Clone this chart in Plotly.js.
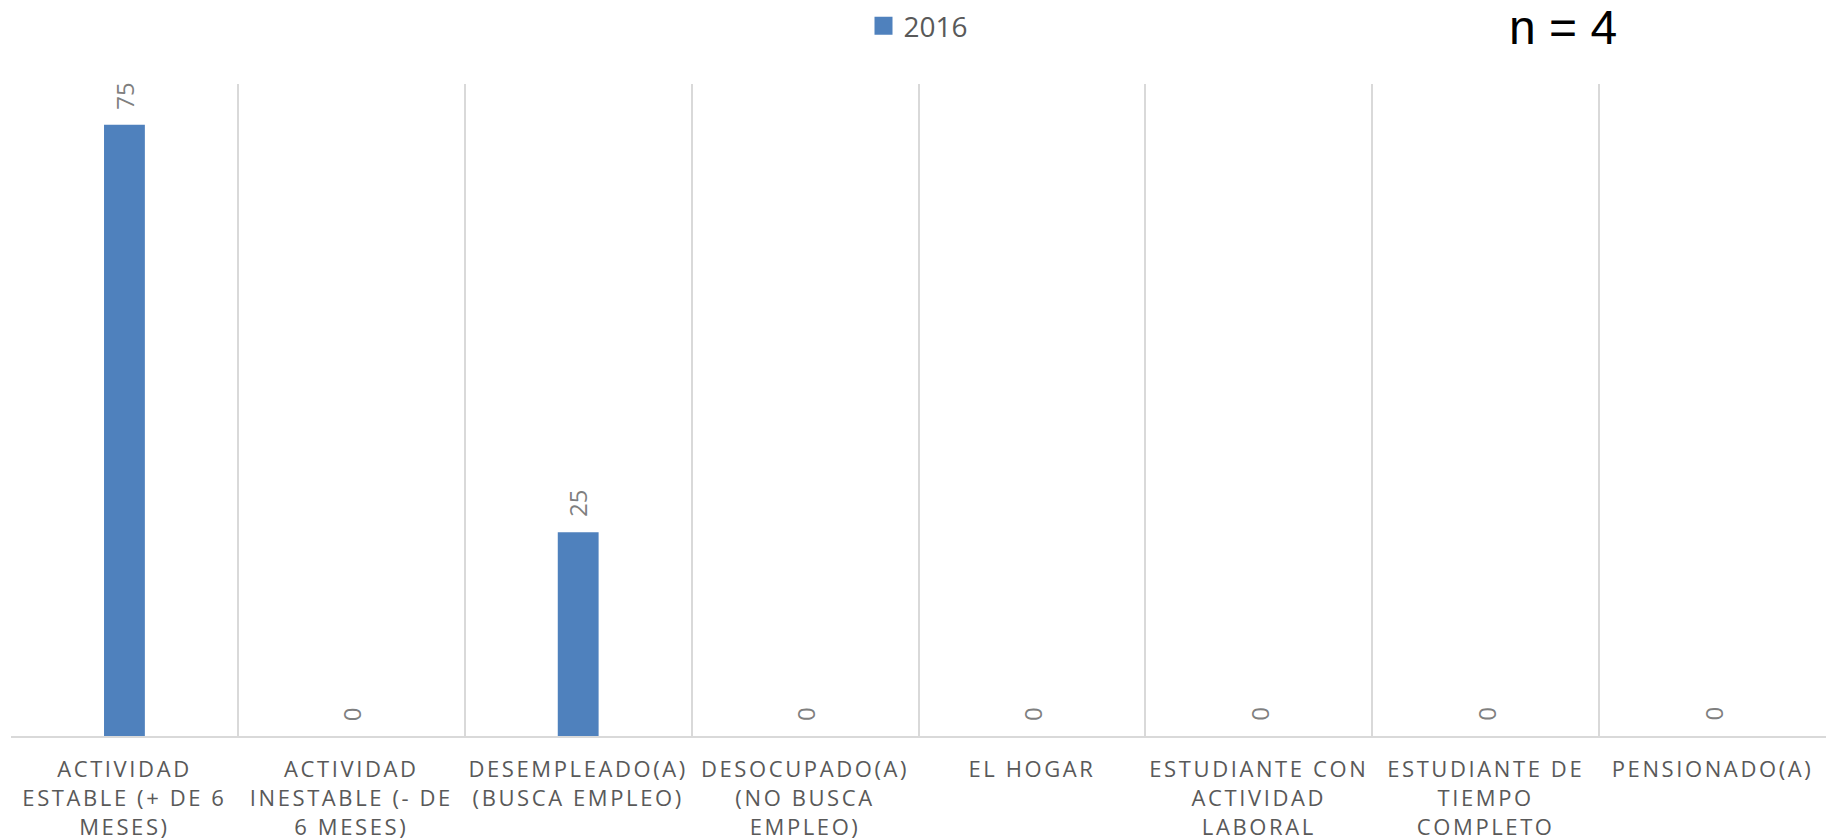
<!DOCTYPE html>
<html>
<head>
<meta charset="utf-8">
<script src="https://cdn.plot.ly/plotly-3.0.1.min.js"></script>
<style>
  html, body { margin: 0; padding: 0; background: #fff; }
  #chart { width: 1833px; height: 840px; }
  .xtick text, .xtick tspan { letter-spacing: 2.6px; }
</style>
</head>
<body>
<div id="chart"></div>
<script>
const categories = [
  "ACTIVIDAD<br>ESTABLE (+ DE 6<br>MESES)",
  "ACTIVIDAD<br>INESTABLE (- DE<br>6 MESES)",
  "DESEMPLEADO(A)<br>(BUSCA EMPLEO)",
  "DESOCUPADO(A)<br>(NO BUSCA<br>EMPLEO)",
  "EL HOGAR",
  "ESTUDIANTE CON<br>ACTIVIDAD<br>LABORAL",
  "ESTUDIANTE DE<br>TIEMPO<br>COMPLETO",
  "PENSIONADO(A)"
];
const seriesName = "2016";
const values2016 = [75, 0, 25, 0, 0, 0, 0, 0];
const sampleLabel = "n = 4";

const trace = {
  type: 'bar',
  name: seriesName,
  x: categories,
  y: values2016,
  width: 0.18,
  marker: { color: '#4f81bd' },
  hoverinfo: 'x+y'
};

const dataLabels = categories.map((c, i) => ({
  x: c,
  y: values2016[i],
  xref: 'x',
  yref: 'y',
  text: String(values2016[i]),
  showarrow: false,
  textangle: -90,
  xanchor: 'center',
  yanchor: 'bottom',
  yshift: 13,
  font: { family: 'Open Sans, sans-serif', size: 24, color: '#7f7f7f' }
}));

const layout = {
  width: 1833,
  height: 840,
  margin: { l: 11, r: 7, t: 84, b: 104, autoexpand: false },
  paper_bgcolor: '#ffffff',
  plot_bgcolor: '#ffffff',
  showlegend: true,
  legend: {
    orientation: 'h',
    xref: 'paper',
    x: 0.5,
    xanchor: 'center',
    yref: 'container',
    y: 0.969,
    yanchor: 'middle',
    font: { family: 'Open Sans, sans-serif', size: 28, color: '#595959' },
    itemwidth: 30
  },
  xaxis: {
    type: 'category',
    range: [-0.5, 7.5],
    tickson: 'boundaries',
    showgrid: true,
    gridcolor: '#d9d9d9',
    gridwidth: 1.5,
    showline: true,
    linecolor: '#d9d9d9',
    linewidth: 2,
    ticks: '',
    automargin: false,
    ticklabelstandoff: 13,
    tickfont: { family: 'Open Sans, sans-serif', size: 22, color: '#595959' },
    fixedrange: true
  },
  yaxis: {
    range: [0, 80],
    showgrid: false,
    zeroline: false,
    showticklabels: false,
    ticks: '',
    showline: false,
    automargin: false,
    fixedrange: true
  },
  annotations: dataLabels.concat([{
    xref: 'paper',
    yref: 'paper',
    x: 0.855,
    y: 1.1288,
    xanchor: 'center',
    yanchor: 'top',
    borderpad: 0,
    text: sampleLabel,
    showarrow: false,
    font: { family: 'Liberation Sans, Arial, sans-serif', size: 48, color: '#000000' }
  }])
};

Plotly.newPlot('chart', [trace], layout, { displayModeBar: false }).then(() => {
  document.querySelectorAll('.legendpoints path').forEach(p => {
    const t = p.getAttribute('transform') || '';
    p.setAttribute('transform', t + ' scale(1.5)');
  });
});
</script>
</body>
</html>
